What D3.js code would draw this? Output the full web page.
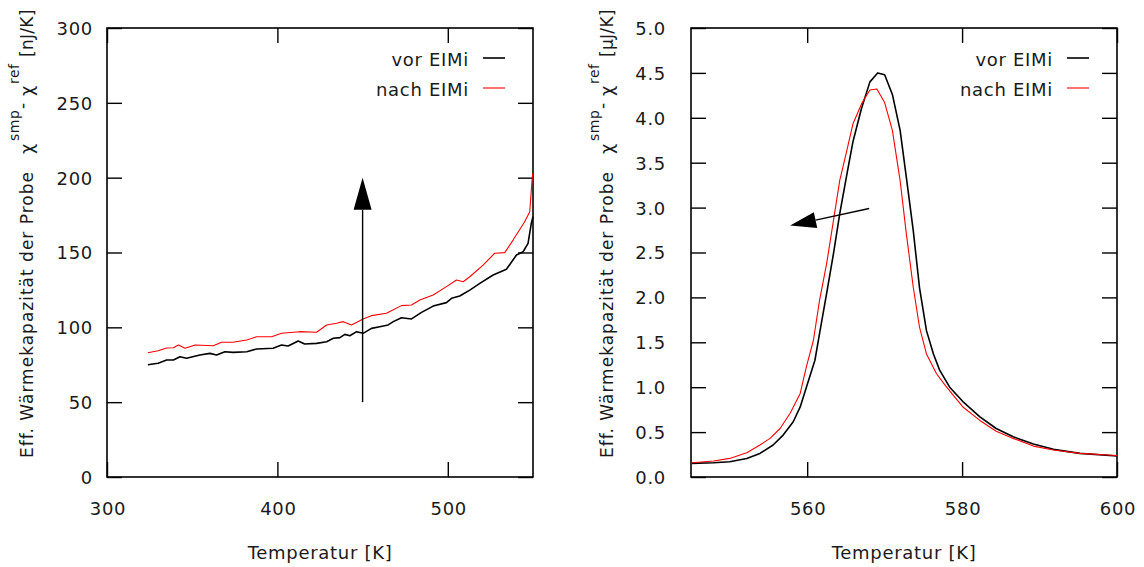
<!DOCTYPE html>
<html><head><meta charset="utf-8">
<script src="https://cdn.jsdelivr.net/npm/d3@7"></script>
<style>
body{margin:0;background:#fff;}
text{font-family:"DejaVu Sans",sans-serif;fill:#1a1a1a;}
</style></head>
<body><svg id="c" width="1144" height="567"></svg>
<script>
// ---------- data ----------
const legendLabels = ["vor EIMi", "nach EIMi"];
const seriesColors = ["#000000", "#ff0000"];

// left panel (nJ/K)
const leftVorT = [324,330,335,339,342.8,346.7,354.5,360.4,364.3,369.2,374,382,387.8,397.5,402.4,406.3,412.2,416,423,428.9,432.8,436.7,439.6,442.5,446.5,450.3,455.2,460.1,465,468,472.8,478.7,484.6,491.4,499.2,502.2,507,512.9,518.8,526.6,534.4,540.3,544.2,547.1,549,550];
const leftVorY = [75,76,78.2,78.2,80.4,79.3,81.5,82.6,81.5,83.7,83.3,83.7,85.5,86,88.2,87.5,90.9,88.9,89.3,90.4,92.7,93.1,95.3,94.4,97.1,96,99.3,100.4,101.6,103.8,106.4,105.6,110,114.2,116.5,119.4,120.9,124.9,129.4,135,138.8,148.3,150.5,156.1,169.5,174];
const leftNachT = [324,330,335,339,341.9,345.8,351.7,362.4,367.2,374,382,387.8,396.6,402.4,413.1,423,428.9,434.7,438.6,443.5,450.3,455.2,464,472.8,478.7,483.6,491.4,499.2,505.1,509,512.9,520.7,527.5,533.4,538.3,545.1,548.1,549.6,550];
const leftNachY = [83,84.4,86.2,86.4,88.2,86,88.2,87.7,90,90,91.5,93.7,93.7,96,97.1,96.7,101.6,102.7,103.8,101.6,105.6,107.8,109.4,114.5,114.9,118.3,121.6,127.2,131.6,130.5,133.8,141.6,149.5,149.9,158.3,170.6,177.3,200.7,203];
const leftXTicks = [300,400,500];
const leftYTicks = [0,50,100,150,200,250,300];
const leftArrow = [[450,50],[450,200]];

// right panel (µJ/K)
const rightVorT = [545.1,547.9,550,552.2,553.9,555.6,556.9,558.2,559.1,559.9,561,561.6,562.5,563.4,564.2,565.1,565.9,567,568.1,569.1,570,571,572,572.8,573.7,574.5,575.4,576.3,577.1,578.4,580.1,582.3,584.4,586.6,589.2,591.8,595.2,600];
const rightVorY = [0.152,0.159,0.17,0.207,0.263,0.356,0.467,0.615,0.78,1.0,1.3,1.6,2.04,2.49,2.93,3.36,3.73,4.10,4.40,4.50,4.48,4.26,3.86,3.34,2.74,2.11,1.63,1.37,1.19,1.0,0.84,0.67,0.54,0.448,0.367,0.308,0.263,0.233];
const rightNachT = [545.1,547.9,550,552.2,553.9,555.2,556.5,557.8,559.1,559.9,560.8,561.6,562.5,563.4,564.2,565.1,565.9,567.1,568.1,569,570,571,572,572.8,573.7,574.5,575.4,576.7,578,580.1,582.3,584.4,586.6,589.2,591.8,595.2,600];
const rightNachY = [0.159,0.178,0.207,0.27,0.356,0.43,0.54,0.71,0.93,1.23,1.52,1.97,2.37,2.86,3.30,3.63,3.93,4.17,4.31,4.32,4.17,3.86,3.30,2.71,2.11,1.67,1.37,1.15,1.0,0.78,0.63,0.51,0.43,0.344,0.30,0.263,0.24];
const rightXTicks = [560,580,600];
const rightYTicks = [0,0.5,1,1.5,2,2.5,3,3.5,4,4.5,5];
const rightArrow = [[568,2.99],[557.8,2.8]];

const xLabel = "Temperatur [K]";
const yLabelMain = "Eff. Wärmekapazität der Probe";
const yUnitsLeft = "[nJ/K]";
const yUnitsRight = "[µJ/K]";

// ---------- drawing ----------
const svg = d3.select("#c");
const FS = 18, LS = "0.7px";

function panel(o){
  const g = svg.append("g");
  const x = d3.scaleLinear().domain(o.xDomain).range([o.left, o.right]);
  const y = d3.scaleLinear().domain(o.yDomain).range([o.bottom, o.top]);
  const T = 15;

  const ax = (gen, tr) => {
    const a = g.append("g").attr("transform", tr).call(gen);
    a.select(".domain").remove();
    a.selectAll("line").attr("stroke","#000").attr("stroke-width",1.4);
    a.selectAll("text").attr("font-size",FS).attr("letter-spacing",LS).attr("fill","#1a1a1a")
      .attr("font-family","DejaVu Sans");
    return a;
  };
  const bx = ax(d3.axisBottom(x).tickValues(o.xTicks).tickSize(-T).tickPadding(25).tickFormat(d3.format("d")),
     `translate(0,${o.bottom})`);
  bx.selectAll("text").attr("dy",null).attr("y",38).attr("dx","0.5px");
  ax(d3.axisTop(x).tickValues(o.xTicks).tickSize(-T).tickFormat(""), `translate(0,${o.top})`);
  const ly = ax(d3.axisLeft(y).tickValues(o.yTicks).tickSize(-T).tickPadding(o.yPad).tickFormat(o.yFmt),
     `translate(${o.left},0)`);
  ly.selectAll("text").attr("dy","0.36em");
  ax(d3.axisRight(y).tickValues(o.yTicks).tickSize(-T).tickFormat(""), `translate(${o.right},0)`);

  g.append("rect").attr("x",o.left).attr("y",o.top).attr("width",o.right-o.left).attr("height",o.bottom-o.top)
    .attr("fill","none").attr("stroke","#000").attr("stroke-width",1.6);

  const line = d3.line().x(d=>x(d[0])).y(d=>y(d[1]));
  o.series.forEach((s,i)=>{
    const pts = s.t.map((t,j)=>[t,s.v[j]]);
    g.append("path").attr("d",line(pts)).attr("fill","none")
      .attr("stroke",seriesColors[i]).attr("stroke-width", i===0?1.6:1.1).attr("stroke-linejoin","round");
  });

  const [p0,p1] = o.arrow;
  const x0=x(p0[0]), y0=y(p0[1]), x1=x(p1[0]), y1=y(p1[1]);
  const ang = Math.atan2(y1-y0, x1-x0);
  const L=o.headL, W=o.headW;
  const bxp = x1 - L*Math.cos(ang), byp = y1 - L*Math.sin(ang);
  g.append("line").attr("x1",x0).attr("y1",y0).attr("x2",bxp).attr("y2",byp).attr("stroke","#000").attr("stroke-width",1.4);
  const nx = -Math.sin(ang), ny = Math.cos(ang);
  g.append("path").attr("d",`M${x1},${y1}L${bxp+W*nx},${byp+W*ny}L${bxp-W*nx},${byp-W*ny}Z`).attr("fill","#000");

  legendLabels.forEach((lab,i)=>{
    const yy = 66 + i*30;
    g.append("text").attr("x",o.legX+1).attr("y",yy).attr("text-anchor","end")
      .attr("font-size",FS).attr("letter-spacing",LS).text(lab);
    g.append("line").attr("x1",o.legX+15).attr("x2",o.legX+37).attr("y1",yy-8).attr("y2",yy-8)
      .attr("stroke",seriesColors[i]).attr("stroke-width", i===0?1.6:1.1);
  });

  g.append("text").attr("x",(o.left+o.right)/2).attr("y",559).attr("text-anchor","middle")
    .attr("font-size",FS).attr("letter-spacing",LS).text(xLabel);

  // y label (rotated; x positions measured along the label from its start)
  const yl = g.append("text").attr("transform",`translate(${o.yLabX},458) rotate(-90)`)
    .attr("font-size",17).attr("letter-spacing","1px");
  yl.append("tspan").attr("x",0).attr("y",0).text(yLabelMain);
  yl.append("tspan").attr("x",304).attr("y",0).attr("font-size",18).text("χ");
  yl.append("tspan").attr("x",317).attr("y",-14).attr("font-size",14).attr("letter-spacing","0.5px").text("smp");
  yl.append("tspan").attr("x",349).attr("y",-5).attr("font-size",17).text("-");
  yl.append("tspan").attr("x",362).attr("y",0).attr("font-size",18).text("χ");
  yl.append("tspan").attr("x",374).attr("y",-14).attr("font-size",14).attr("letter-spacing","0.5px").text("ref");
  yl.append("tspan").attr("x",401).attr("y",0).attr("letter-spacing","0.3px").text(o.units);
}

panel({xDomain:[300,550], yDomain:[0,300], left:107, right:533, top:28, bottom:477,
  xTicks:leftXTicks, yTicks:leftYTicks, yFmt:d3.format("d"), yPad:14,
  series:[{t:leftVorT,v:leftVorY},{t:leftNachT,v:leftNachY}],
  arrow:leftArrow, headL:32, headW:9, legX:468, yLabX:33, units:yUnitsLeft});

panel({xDomain:[545,600], yDomain:[0,5], left:691, right:1117, top:28, bottom:477,
  xTicks:rightXTicks, yTicks:rightYTicks, yFmt:d3.format(".1f"), yPad:25,
  series:[{t:rightVorT,v:rightVorY},{t:rightNachT,v:rightNachY}],
  arrow:rightArrow, headL:26, headW:8, legX:1052, yLabX:613, units:yUnitsRight});
</script></body></html>
